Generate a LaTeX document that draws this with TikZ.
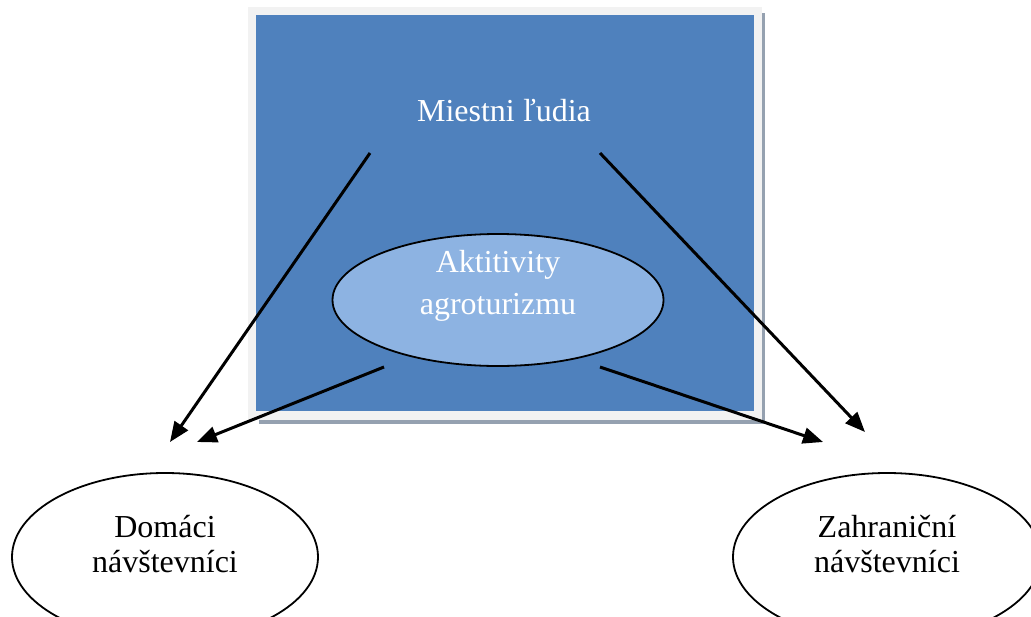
\documentclass[tikz,border=0pt]{standalone}
\usepackage{fontspec}
\setmainfont{Liberation Serif}
\usetikzlibrary{arrows.meta,shapes.geometric}
\definecolor{boxblue}{HTML}{4F81BD}
\definecolor{ovalblue}{HTML}{8DB3E2}
\definecolor{framegray}{HTML}{F2F2F2}
\definecolor{shadowgray}{HTML}{95A1B0}
\tikzset{
  oval/.style={draw=black, line width=1.8pt, ellipse},
  label text/.style={align=center, font=\fontsize{32}{35}\selectfont},
  flow/.style={line width=3pt, -{Triangle[length=20pt,width=16pt]}},
}
\begin{document}
\begin{tikzpicture}[x=1pt,y=-1pt]
  \useasboundingbox (0,0) rectangle (1031,616);
  % framed panel: shadow, light frame, blue field
  \fill[shadowgray] (259,13) rectangle (765,424);
  \fill[framegray] (248,7) rectangle (762,420);
  \fill[boxblue] (256,15) rectangle (754,411);
  \node[label text, text=white] (local) at (504,111) {Miestni ľudia};
  % inner oval
  \node[oval, fill=ovalblue, minimum width=331pt, minimum height=132pt] (agro) at (498,300) {};
  \node[label text, text=white, font=\fontsize{32}{42}\selectfont] (agrotxt) at (498,286) {Aktitivity\\agroturizmu};
  % visitor ovals
  \node[oval, minimum width=306pt, minimum height=168pt] (dom) at (165,557) {};
  \node[label text] (domtxt) at (165,544) {Domáci\\návštevníci};
  \node[oval, minimum width=308pt, minimum height=168pt] (zahr) at (887,557) {};
  \node[label text] (zahrtxt) at (887,544) {Zahraniční\\návštevníci};
  % arrow ends
  \coordinate (l1) at (370,153);
  \coordinate (l2) at (600,153);
  \coordinate (a1) at (384,367);
  \coordinate (a2) at (600,367);
  \coordinate (d1) at (170,442);
  \coordinate (d2) at (197,442);
  \coordinate (z1) at (823,442);
  \coordinate (z2) at (865,432);
  \draw[flow] (l1) -- (d1);
  \draw[flow] (a1) -- (d2);
  \draw[flow] (a2) -- (z1);
  \draw[flow] (l2) -- (z2);
\end{tikzpicture}
\end{document}
